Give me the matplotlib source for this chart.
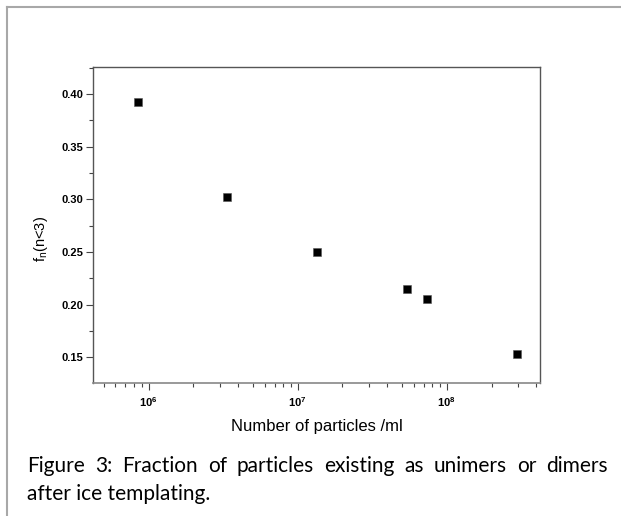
import numpy as np
import matplotlib
matplotlib.use("Agg")
import matplotlib.pyplot as plt
from matplotlib.lines import Line2D
from matplotlib.ticker import LogLocator, MultipleLocator, NullFormatter

# datos
particulas = [8.5e5, 3.38e6, 1.345e7, 5.41e7, 7.39e7, 2.96e8]
fraccion   = [0.392, 0.3026, 0.2504, 0.2147, 0.2058, 0.1527]

EJE_X = "Number of particles /ml"
EJE_Y = r"f$_\mathregular{n}$(n<3)"
LINEA1 = "Figure 3: Fraction of particles existing as unimers or dimers"
LINEA2 = "after ice templating."

plt.rcParams["font.family"] = ["Liberation Sans", "DejaVu Sans"]
plt.rcParams["mathtext.fontset"] = "custom"
plt.rcParams["mathtext.rm"] = "Liberation Sans"

fig = plt.figure(figsize=(6.21, 5.16), dpi=100)
ax = fig.add_axes([93/621, 1-383/516, 447/621, 316/516])

ax.scatter(particulas, fraccion, marker="s", s=34, color="black",
           edgecolors="#555555", linewidths=0.4, zorder=3)

ax.set_xscale("log")
ax.set_xlim(4.24e5, 4.23e8)
ax.set_ylim(0.1256, 0.4256)

ax.yaxis.set_major_locator(MultipleLocator(0.05))
ax.yaxis.set_minor_locator(MultipleLocator(0.025))
ax.yaxis.set_major_formatter(plt.FuncFormatter(lambda v, p: f"{v:.2f}"))
ax.xaxis.set_major_locator(LogLocator(base=10))
ax.xaxis.set_minor_locator(LogLocator(base=10, subs=np.arange(2, 10)))
ax.xaxis.set_minor_formatter(NullFormatter())

ax.tick_params(which="both", direction="out", top=False, right=False,
               color="#444444", width=0.8)
ax.tick_params(which="major", length=5, labelsize=8, pad=2)
ax.tick_params(axis="x", which="major", pad=4)
ax.tick_params(which="minor", length=3)
for lab in ax.get_xticklabels() + ax.get_yticklabels():
    lab.set_fontweight("bold")

for lado in ["left", "top", "right"]:
    ax.spines[lado].set_color("#555555")
    ax.spines[lado].set_linewidth(1.0)
ax.spines["bottom"].set_color("#888888")
ax.spines["bottom"].set_linewidth(1.2)

ax.set_xlabel(EJE_X, fontsize=12, labelpad=7)
ax.set_ylabel(EJE_Y, fontsize=10.5)
ax.yaxis.set_label_coords(-0.097, 0.456)

# marco de la pagina (solo esquina superior izquierda visible)
fig.add_artist(Line2D([7/621, 7/621], [0, 1-7/516], transform=fig.transFigure,
                      color="#a8a8a8", linewidth=1.5))
fig.add_artist(Line2D([7/621, 1], [1-7/516, 1-7/516], transform=fig.transFigure,
                      color="#a8a8a8", linewidth=1.5))

# pie de figura, primera linea justificada
familia_pie = ["Lato", "DejaVu Sans"]
tam_pie = 15
x_ini, x_fin = 27, 608
renderer = fig.canvas.get_renderer()
palabras = LINEA1.split()
textos = [fig.text(0, 0, w, fontsize=tam_pie, family=familia_pie) for w in palabras]
anchos = [t.get_window_extent(renderer).width for t in textos]
hueco = (x_fin - x_ini - sum(anchos)) / (len(palabras) - 1)
x = x_ini
for t, w in zip(textos, anchos):
    t.set_position((x/621, 1-472/516))
    t.set_va("baseline")
    x += w + hueco
fig.text(x_ini/621, 1-500/516, LINEA2, fontsize=tam_pie, family=familia_pie, va="baseline")

fig.savefig("out.png", dpi=100)
